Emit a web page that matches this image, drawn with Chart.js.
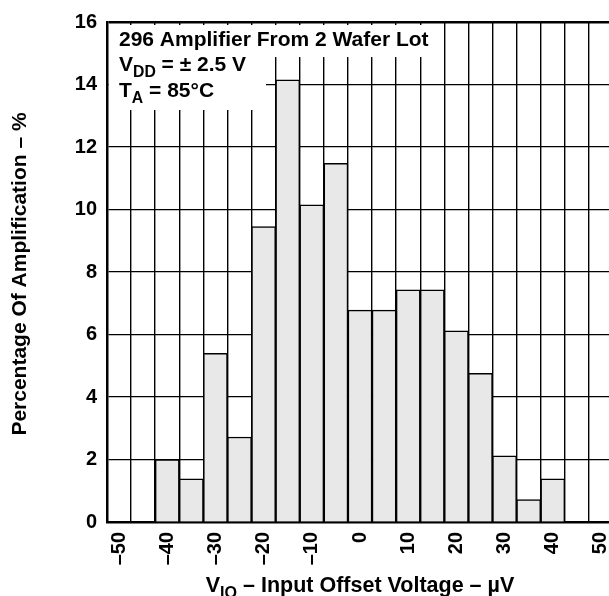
<!DOCTYPE html>
<html>
<head>
<meta charset="utf-8">
<script src="https://cdn.jsdelivr.net/npm/chart.js@4.4.0/dist/chart.umd.min.js"></script>
<style>
  html, body { margin: 0; padding: 0; background: #fff; overflow: hidden; }
  #wrap { width: 616px; height: 596px; }
</style>
</head>
<body>
<div id="wrap"><canvas id="histChart"></canvas></div>
<script>
// 5 uV wide bins, centre value of each bin
const voltageBins = [-50, -45, -40, -35, -30, -25, -20, -15, -10, -5, 0, 5, 10, 15, 20, 25, 30, 35, 40, 45, 50];
// percent of amplifiers in each bin
const percentValues = [null, null, 2.0, 1.38, 5.4, 2.72, 9.45, 14.15, 10.15, 11.48, 6.78, 6.78, 7.43, 7.43, 6.12, 4.76, 2.12, 0.72, 1.38, null, null];
const xTickLabels = [-50, -40, -30, -20, -10, 0, 10, 20, 30, 40, 50];
const yTicks = [0, 2, 4, 6, 8, 10, 12, 14, 16];

const FONT = '"Liberation Sans", Arial, sans-serif';

function fmt(v) {
  return v < 0 ? '\u2013' + Math.abs(v) : String(v);
}

// draw a line of text made of pieces, some of them subscripts
function drawParts(ctx, parts, x, y, size) {
  let cx = x;
  parts.forEach(p => {
    const s = p.sub ? size * 0.75 : size;
    ctx.font = 'bold ' + s + 'px ' + FONT;
    ctx.fillText(p.t, cx, p.sub ? y + size * 0.28 : y);
    cx += ctx.measureText(p.t).width;
  });
  return cx - x;
}
function partsWidth(ctx, parts, size) {
  let w = 0;
  parts.forEach(p => {
    ctx.font = 'bold ' + (p.sub ? size * 0.75 : size) + 'px ' + FONT;
    w += ctx.measureText(p.t).width;
  });
  return w;
}

const textPlugin = {
  id: 'textPlugin',
  afterDraw(chart) {
    const ctx = chart.ctx;
    const a = chart.chartArea;
    ctx.save();
    // white boxes behind the note
    ctx.fillStyle = '#fff';
    ctx.fillRect(a.left + 2, 25, 328, 32);
    ctx.fillRect(a.left + 2, 56, 157, 54);

    ctx.fillStyle = '#000';
    ctx.textBaseline = 'alphabetic';
    ctx.textAlign = 'left';
    const nx = a.left + 12;
    drawParts(ctx, [{ t: '296 Amplifier From 2 Wafer Lot' }], nx, 46, 21);
    drawParts(ctx, [{ t: 'V' }, { t: 'DD', sub: true }, { t: ' = \u00b1 2.5 V' }], nx, 71, 21);
    drawParts(ctx, [{ t: 'T' }, { t: 'A', sub: true }, { t: ' = 85\u00b0C' }], nx, 97, 21);

    // x axis title
    const xt = [{ t: 'V' }, { t: 'IO', sub: true }, { t: ' \u2013 Input Offset Voltage \u2013 \u00b5V' }];
    const xs = chart.scales.x;
    const xc = xs.getPixelForValue(voltageBins.indexOf(0));
    const w = partsWidth(ctx, xt, 21.5);
    drawParts(ctx, xt, xc - w / 2, 592, 21.5);

    // y axis title
    ctx.translate(20, (a.top + a.bottom) / 2 + 2);
    ctx.rotate(-Math.PI / 2);
    ctx.font = 'bold 21px ' + FONT;
    ctx.textAlign = 'center';
    ctx.textBaseline = 'middle';
    ctx.fillText('Percentage Of Amplification \u2013 %', 0, 0);
    ctx.restore();
  }
};

new Chart(document.getElementById('histChart'), {
  type: 'bar',
  data: {
    labels: voltageBins,
    datasets: [{
      data: percentValues,
      backgroundColor: '#e8e8e8',
      borderColor: '#000',
      borderWidth: 1.5,
      barPercentage: 1,
      categoryPercentage: 1
    }]
  },
  options: {
    responsive: true,
    maintainAspectRatio: false,
    animation: false,
    layout: { padding: { top: 15, right: 3, left: 0, bottom: 0 } },
    plugins: { legend: { display: false }, tooltip: { enabled: false } },
    scales: {
      x: {
        z: 1,
        offset: true,
        afterFit: s => { s.height = 74; s.paddingLeft = 0; s.paddingRight = 0; },
        grid: { color: '#000', lineWidth: 1.4, offset: true, drawTicks: false },
        border: { color: '#000', width: 2.5 },
        ticks: {
          autoSkip: false,
          minRotation: 90,
          maxRotation: 90,
          padding: 10,
          color: '#000',
          font: { family: FONT, size: 20, weight: 'bold' },
          callback: (v, i) => xTickLabels.includes(voltageBins[i]) ? fmt(voltageBins[i]) : ''
        }
      },
      y: {
        z: 1,
        min: 0,
        max: 16,
        afterFit: s => { s.width = 107; },
        afterBuildTicks: s => { s.ticks = yTicks.map(v => ({ value: v })); },
        grid: {
          color: '#000',
          drawTicks: false,
          lineWidth: c => c.tick && c.tick.value === 16 ? 2.5 : 1.2
        },
        border: { color: '#000', width: 2.5 },
        ticks: {
          padding: 10,
          color: '#000',
          font: { family: FONT, size: 20, weight: 'bold' }
        }
      }
    }
  },
  plugins: [textPlugin]
});
</script>
</body>
</html>
